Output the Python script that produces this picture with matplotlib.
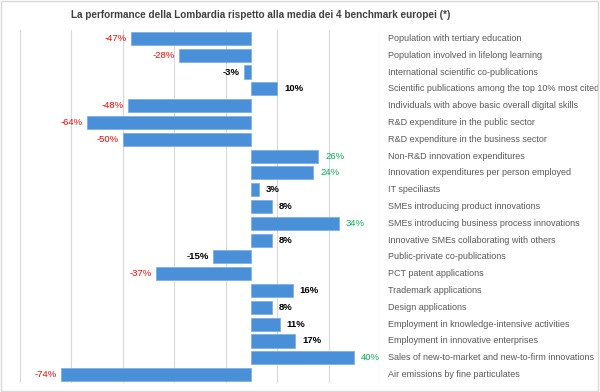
import matplotlib.pyplot as plt
from matplotlib.patches import Rectangle

plt.rcParams['font.family'] = ['Liberation Sans', 'DejaVu Sans']

# Indicators and percentage gap vs the average of the 4 European benchmarks
categories = [
    'Population with tertiary education',
    'Population involved in lifelong learning',
    'International scientific co-publications',
    'Scientific publications among the top 10% most cited',
    'Individuals with above basic overall digital skills',
    'R&D expenditure in the public sector',
    'R&D expenditure in the business sector',
    'Non-R&D innovation expenditures',
    'Innovation expenditures per person employed',
    'IT speciliasts',
    'SMEs introducing product innovations',
    'SMEs introducing business process innovations',
    'Innovative SMEs collaborating with others',
    'Public-private co-publications',
    'PCT patent applications',
    'Trademark applications',
    'Design applications',
    'Employment in knowledge-intensive activities',
    'Employment in innovative enterprises',
    'Sales of new-to-market and new-to-firm innovations',
    'Air emissions by fine particulates',
]
values = [-47, -28, -3, 10, -48, -64, -50, 26, 24, 3, 8, 34, 8, -15, -37,
          16, 8, 11, 17, 40, -74]

fig = plt.figure(figsize=(6, 3.92), dpi=100)
ax = fig.add_axes([20 / 600, 1 - 383 / 392, 360 / 600, 353 / 392])

y = list(range(len(categories)))
ax.barh(y, values, height=0.78, color='#4a90d9', edgecolor='#7fb0e6', linewidth=0.6, zorder=3)

ax.set_xlim(-90, 50)
ax.set_ylim(len(categories) - 0.5, -0.5)
ax.set_xticks(range(-90, 51, 20))
ax.set_yticks([])
ax.tick_params(axis='x', length=0, labelbottom=False)
ax.grid(axis='x', color='#d9d9d9', linewidth=0.8, zorder=0)
for s in ax.spines.values():
    s.set_visible(False)

# value labels: red for big gaps, green for big leads, black bold otherwise
for yi, v in zip(y, values):
    if v <= -20:
        col, wt = '#ff0000', 'normal'
    elif v >= 20:
        col, wt = '#00b050', 'normal'
    else:
        col, wt = 'black', 'bold'
    if v < 0:
        ax.annotate(f'{v}%', (v, yi), xytext=(-3, 0), textcoords='offset points',
                    ha='right', va='center', fontsize=6.8, color=col, fontweight=wt)
    else:
        ax.annotate(f'{v}%', (v, yi), xytext=(5, 0), textcoords='offset points',
                    ha='left', va='center', fontsize=6.8, color=col, fontweight=wt)

# category names on the right
for yi, name in zip(y, categories):
    ax.annotate(name, (1, yi), xycoords=('axes fraction', 'data'), xytext=(6, 0),
                textcoords='offset points', ha='left', va='center', fontsize=6.5,
                color='#595959', annotation_clip=False)

fig.text(0.435, 0.963, 'La performance della Lombardia rispetto alla media dei 4 benchmark europei (*)',
         ha='center', va='center', fontsize=7.2, fontweight='bold', color='#404040')

fig.patches.append(Rectangle((0.002, 0.003), 0.995, 0.994, transform=fig.transFigure,
                             fill=False, edgecolor='#d9d9d9', linewidth=1))

fig.savefig('out.png', dpi=100)
